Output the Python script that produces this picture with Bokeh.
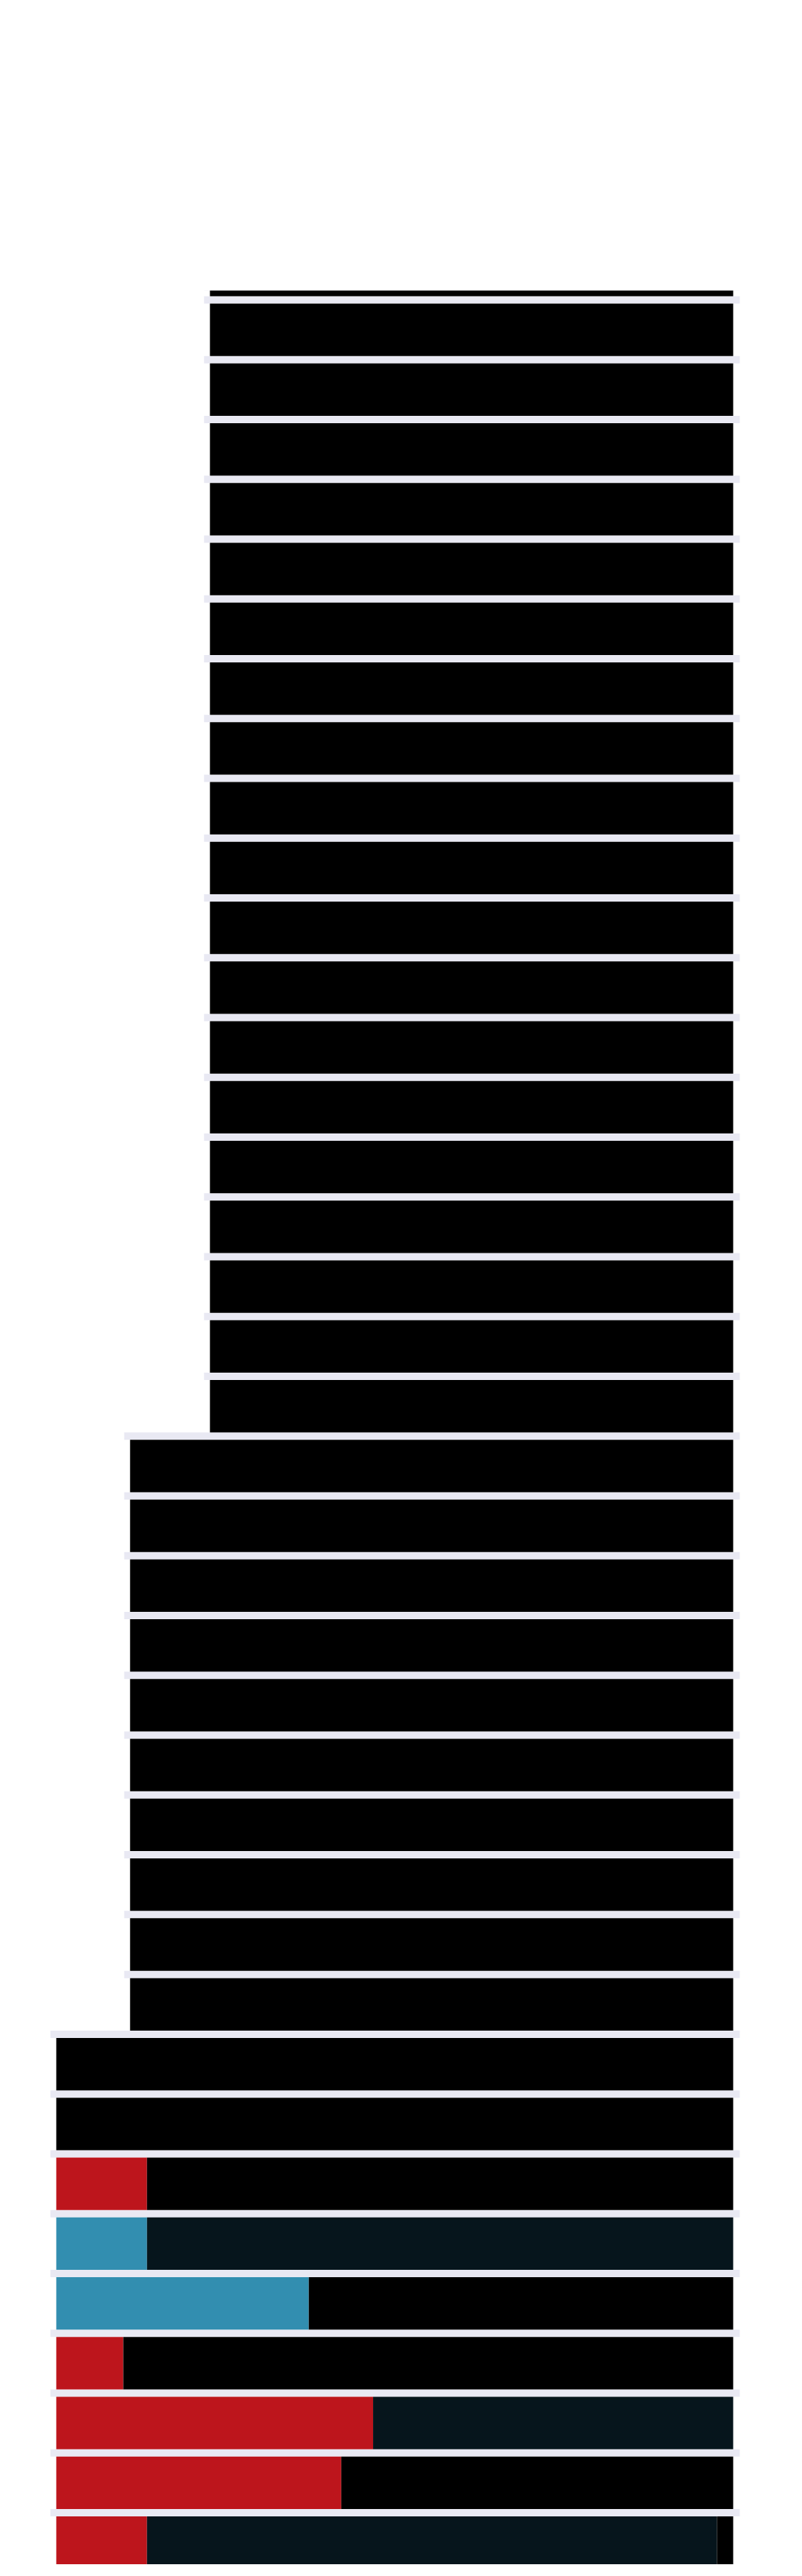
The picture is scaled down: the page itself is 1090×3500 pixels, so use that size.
from bokeh.plotting import figure
from bokeh.models import ColumnDataSource, Range1d
from bokeh.embed import file_html
from bokeh.resources import INLINE

# ---- data (rows from top to bottom; row -1 is the bar cut off at the top) ----
rows = list(range(-1, 38))
row_start = [22.7] * 20 + [10.9] * 10 + [0.0] * 9
accent_end = ([22.7] * 20 + [10.9] * 10 +
              [0.0, 0.0, 13.4, 13.4, 37.3, 9.9, 46.8, 42.1, 13.4])
accent_color = (["#bd151c"] * 30 +
                ["#bd151c", "#bd151c", "#bd151c", "#328eb0", "#328eb0",
                 "#bd151c", "#bd151c", "#bd151c", "#bd151c"])
body_end = [100.0] * 38 + [97.6]
body_color = (["#000000"] * 30 +
              ["#000000", "#000000", "#000000", "#06151c", "#000000",
               "#000000", "#06151c", "#000000", "#06151c"])
total = [100.0] * 39

# ---- styling ----
BAND = "#e9e9f3"
PX_PER_UNIT = 9.2
PAD_L = 8 / PX_PER_UNIT
PAD_R = 9 / PX_PER_UNIT
GAP = 10 / 81.25          # fraction of a row used by the light separator

p = figure(width=1074, height=3484, output_backend="svg", toolbar_location=None,
           x_range=Range1d(-8.26, 108.48), y_range=Range1d(37.43, -0.598),
           x_axis_location=None, y_axis_location=None,
           min_border_top=394, min_border_bottom=0,
           min_border_left=0, min_border_right=0)
p.grid.visible = False
p.outline_line_color = None
p.background_fill_color = "white"
p.border_fill_color = "white"

src = ColumnDataSource(dict(
    yg=[r - 0.5 + GAP / 2 for r in rows],
    yb=[r + GAP / 2 for r in rows],
    start=row_start,
    band_l=[s - PAD_L for s in row_start],
    band_r=[t + PAD_R for t in total],
    acc_end=accent_end,
    acc_col=accent_color,
    body_end=body_end,
    body_col=body_color,
    total=total,
))

# light separator band above each row
p.hbar(y="yg", height=GAP, left="band_l", right="band_r", source=src,
       fill_color=BAND, line_color=None)
# accent (red / blue) segment
p.hbar(y="yb", height=1 - GAP, left="start", right="acc_end", source=src,
       fill_color="acc_col", line_color=None)
# main body segment
p.hbar(y="yb", height=1 - GAP, left="acc_end", right="body_end", source=src,
       fill_color="body_col", line_color=None)
# black tail
p.hbar(y="yb", height=1 - GAP, left="body_end", right="total", source=src,
       fill_color="#000000", line_color=None)

open("out.html", "w").write(file_html(p, INLINE))
